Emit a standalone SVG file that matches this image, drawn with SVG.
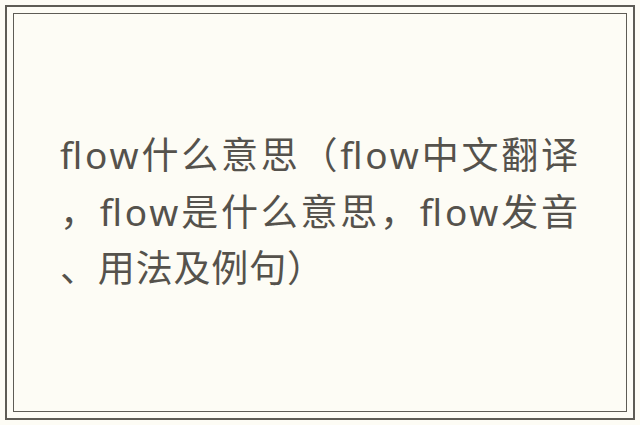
<svg xmlns="http://www.w3.org/2000/svg" width="640" height="425" viewBox="0 0 640 425">
<style>.t{font-family:"Noto Sans","Noto Sans CJK SC",sans-serif;font-size:37px;fill:#55524c}</style>
<rect width="640" height="425" fill="#fdfcf5"/>
<rect x="6" y="6" width="628" height="413" fill="none" stroke="#5e5c55" stroke-width="2"/>
<rect x="13.5" y="13.5" width="613" height="398" fill="none" stroke="#5e5c55" stroke-width="1"/>
<g id="title">
<text class="t" x="60" y="169" textLength="518" lengthAdjust="spacing">flow什么意思（flow中文翻译</text>
<text class="t" x="60" y="226" textLength="518" lengthAdjust="spacing">，flow是什么意思，flow发音</text>
<text class="t" x="60" y="282" textLength="264" lengthAdjust="spacing">、用法及例句）</text>
</g>
</svg>
